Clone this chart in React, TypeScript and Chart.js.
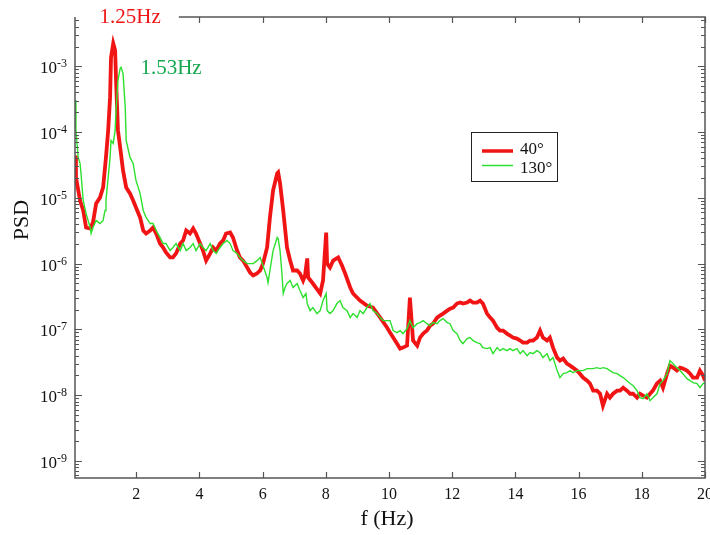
import React, { useEffect, useRef } from "react";
import { Chart, registerables } from "chart.js";

Chart.register(...registerables);

// ---- data ----
const freq40 = [
  0.06, 0.09, 0.22, 0.32, 0.41, 0.54, 0.63, 0.73, 0.85, 0.95,
  1.04, 1.11, 1.17, 1.2, 1.27, 1.33, 1.36, 1.42, 1.49, 1.58,
  1.68, 1.8, 1.9, 1.99, 2.12, 2.22, 2.31, 2.44, 2.53, 2.63,
  2.75, 2.85, 2.94, 3.07, 3.16, 3.26, 3.39, 3.48, 3.58, 3.7,
  3.8, 3.89, 4.02, 4.11, 4.21, 4.34, 4.43, 4.53, 4.65, 4.75,
  4.84, 4.97, 5.06, 5.19, 5.28, 5.38, 5.51, 5.6, 5.7, 5.82,
  5.92, 6.01, 6.14, 6.23, 6.33, 6.46, 6.49, 6.55, 6.65, 6.77,
  6.87, 6.96, 7.09, 7.18, 7.28, 7.34, 7.41, 7.44, 7.59, 7.82,
  7.91, 8.01, 8.04, 8.13, 8.23, 8.39, 8.51, 8.61, 8.77, 8.86,
  9.08, 9.3, 9.49, 9.72, 9.94, 10.03, 10.13, 10.25, 10.35, 10.44,
  10.57, 10.66, 10.73, 10.76, 10.89, 10.98, 11.08, 11.2, 11.3, 11.39,
  11.52, 11.61, 11.71, 11.84, 11.93, 12.03, 12.15, 12.25, 12.34, 12.47,
  12.56, 12.66, 12.78, 12.88, 12.97, 13.1, 13.2, 13.29, 13.42, 13.51,
  13.61, 13.73, 13.83, 13.92, 14.05, 14.15, 14.24, 14.37, 14.46, 14.56,
  14.68, 14.78, 14.87, 15.0, 15.09, 15.19, 15.32, 15.41, 15.51, 15.63,
  15.73, 15.82, 15.95, 16.04, 16.14, 16.27, 16.36, 16.46, 16.58, 16.68,
  16.77, 16.9, 16.99, 17.09, 17.22, 17.31, 17.41, 17.53, 17.63, 17.72,
  17.85, 17.94, 18.04, 18.16, 18.26, 18.35, 18.48, 18.58, 18.67, 18.8,
  18.89, 18.99, 19.11, 19.21, 19.3, 19.43, 19.53, 19.62, 19.75, 19.84,
  19.94, 20.0,
];
const psd40 = [
  4.4e-5, 2.05e-5, 9.12e-6, 6.43e-6, 3.54e-6, 3.42e-6, 4.23e-6, 8.22e-6, 1.01e-5, 1.44e-5,
  4.12e-5, 1.06e-4, 3.37e-4, 1.37e-3, 2.24e-3, 1.75e-3, 6.12e-4, 1.06e-4, 5.85e-5, 2.61e-5,
  1.44e-5, 1.17e-5, 9.12e-6, 7.14e-6, 5.04e-6, 3.19e-6, 2.87e-6, 3.19e-6, 3.54e-6, 2.87e-6,
  2.02e-6, 1.76e-6, 1.48e-6, 1.24e-6, 1.24e-6, 1.43e-6, 2.02e-6, 2.25e-6, 3.19e-6, 2.87e-6,
  3.42e-6, 2.87e-6, 2.02e-6, 1.58e-6, 1.11e-6, 1.43e-6, 1.76e-6, 1.58e-6, 2.02e-6, 2.25e-6,
  2.87e-6, 2.97e-6, 2.5e-6, 1.58e-6, 1.24e-6, 1.11e-6, 8.73e-7, 7.33e-7, 6.59e-7, 7.07e-7,
  7.86e-7, 1.0e-6, 1.76e-6, 5.04e-6, 1.3e-5, 2.35e-5, 2.44e-5, 1.66e-5, 6.43e-6, 1.76e-6,
  1.11e-6, 7.86e-7, 7.86e-7, 7.07e-7, 5.53e-7, 6.59e-7, 1.2e-6, 6.14e-7, 4.98e-7, 3.51e-7,
  5.53e-7, 2.97e-6, 1.0e-6, 8.73e-7, 1.11e-6, 1.24e-6, 9.36e-7, 7.07e-7, 4.33e-7, 3.51e-7,
  2.74e-7, 2.3e-7, 2.15e-7, 1.51e-7, 1.06e-7, 8.93e-8, 7.5e-8, 6.08e-8, 5.1e-8, 5.28e-8,
  5.67e-8, 3.05e-7, 1.06e-7, 6.76e-8, 5.67e-8, 7.5e-8, 8.63e-8, 9.59e-8, 1.14e-7, 1.22e-7,
  1.51e-7, 1.62e-7, 1.74e-7, 1.93e-7, 2.07e-7, 2.15e-7, 2.47e-7, 2.56e-7, 2.47e-7, 2.56e-7,
  2.74e-7, 2.56e-7, 2.56e-7, 2.74e-7, 2.47e-7, 1.74e-7, 1.51e-7, 1.36e-7, 1.06e-7, 9.59e-8,
  9.59e-8, 8.63e-8, 8.05e-8, 7.5e-8, 7.24e-8, 6.76e-8, 6.3e-8, 6.3e-8, 6.76e-8, 6.76e-8,
  7.5e-8, 9.59e-8, 7.5e-8, 6.76e-8, 7.5e-8, 5.28e-8, 3.72e-8, 3.35e-8, 3.59e-8, 3.01e-8,
  2.81e-8, 2.62e-8, 2.36e-8, 2.12e-8, 1.85e-8, 1.66e-8, 1.5e-8, 1.17e-8, 1.17e-8, 1.05e-8,
  6.92e-9, 1.05e-8, 9.16e-9, 1.05e-8, 1.17e-8, 1.17e-8, 1.3e-8, 1.17e-8, 1.05e-8, 1.05e-8,
  9.16e-9, 1.05e-8, 9.82e-9, 9.16e-9, 1.05e-8, 1.17e-8, 1.5e-8, 1.66e-8, 1.3e-8, 2.12e-8,
  2.81e-8, 2.62e-8, 2.36e-8, 2.62e-8, 2.53e-8, 2.36e-8, 2.12e-8, 1.85e-8, 1.85e-8, 2.36e-8,
  1.98e-8, 1.66e-8,
];

const freq130 = [
  0.06, 0.09, 0.16, 0.22, 0.25, 0.32, 0.41, 0.54, 0.57, 0.63,
  0.73, 0.85, 0.95, 1.01, 1.04, 1.11, 1.17, 1.2, 1.27, 1.33,
  1.36, 1.42, 1.49, 1.52, 1.58, 1.65, 1.68, 1.8, 1.9, 1.99,
  2.12, 2.22, 2.31, 2.44, 2.53, 2.63, 2.75, 2.85, 2.94, 3.07,
  3.16, 3.26, 3.39, 3.48, 3.58, 3.7, 3.8, 3.89, 4.02, 4.11,
  4.21, 4.34, 4.43, 4.53, 4.65, 4.75, 4.87, 4.97, 5.06, 5.19,
  5.28, 5.38, 5.51, 5.6, 5.7, 5.82, 5.92, 6.01, 6.14, 6.17,
  6.23, 6.33, 6.46, 6.49, 6.55, 6.61, 6.65, 6.71, 6.77, 6.87,
  6.96, 7.09, 7.18, 7.28, 7.37, 7.41, 7.5, 7.59, 7.72, 7.82,
  7.91, 8.01, 8.04, 8.13, 8.23, 8.35, 8.45, 8.54, 8.67, 8.77,
  8.86, 8.99, 9.08, 9.18, 9.3, 9.4, 9.49, 9.62, 9.72, 9.81,
  9.94, 10.03, 10.13, 10.25, 10.35, 10.44, 10.57, 10.66, 10.76, 10.89,
  10.98, 11.08, 11.2, 11.3, 11.39, 11.52, 11.61, 11.71, 11.84, 11.93,
  12.03, 12.15, 12.25, 12.34, 12.47, 12.56, 12.66, 12.78, 12.88, 12.97,
  13.1, 13.2, 13.29, 13.42, 13.51, 13.61, 13.73, 13.83, 13.92, 14.05,
  14.15, 14.24, 14.37, 14.46, 14.56, 14.68, 14.78, 14.87, 15.0, 15.09,
  15.19, 15.32, 15.41, 15.51, 15.63, 15.73, 15.82, 15.95, 16.04, 16.14,
  16.27, 16.36, 16.46, 16.58, 16.68, 16.77, 16.9, 16.99, 17.09, 17.22,
  17.31, 17.41, 17.53, 17.63, 17.72, 17.85, 17.94, 18.04, 18.16, 18.26,
  18.35, 18.48, 18.58, 18.67, 18.8, 18.89, 18.99, 19.11, 19.21, 19.3,
  19.43, 19.53, 19.62, 19.75, 19.84, 19.94, 20.0,
];
const psd130 = [
  3.04e-4, 1.06e-4, 4.12e-5, 3.34e-5, 2.35e-5, 9.12e-6, 5.79e-6, 3.54e-6, 2.87e-6, 3.54e-6,
  4.53e-6, 4.07e-6, 4.53e-6, 6.43e-6, 9.12e-6, 2.05e-5, 4.12e-5, 7.48e-5, 6.73e-5, 1.06e-4,
  2.14e-4, 6.12e-4, 9.33e-4, 9.66e-4, 7.82e-4, 2.38e-4, 7.48e-5, 4.12e-5, 3.34e-5, 1.84e-5,
  1.17e-5, 6.43e-6, 5.04e-6, 4.07e-6, 4.07e-6, 3.19e-6, 2.5e-6, 2.02e-6, 2.02e-6, 1.58e-6,
  1.76e-6, 2.02e-6, 1.58e-6, 2.02e-6, 1.58e-6, 1.76e-6, 2.02e-6, 1.58e-6, 2.02e-6, 1.76e-6,
  1.58e-6, 2.02e-6, 1.58e-6, 1.43e-6, 1.76e-6, 2.02e-6, 2.25e-6, 2.02e-6, 1.58e-6, 1.43e-6,
  1.24e-6, 1.11e-6, 1.0e-6, 1.0e-6, 1.0e-6, 1.11e-6, 1.24e-6, 9.36e-7, 6.14e-7, 5.15e-7,
  7.86e-7, 1.58e-6, 2.5e-6, 2.41e-6, 1.58e-6, 7.07e-7, 3.51e-7, 4.33e-7, 4.98e-7, 5.53e-7,
  4.33e-7, 4.98e-7, 3.9e-7, 3.05e-7, 3.51e-7, 2.47e-7, 1.93e-7, 2.15e-7, 1.74e-7, 1.93e-7,
  2.74e-7, 3.51e-7, 1.93e-7, 1.74e-7, 1.93e-7, 2.47e-7, 2.74e-7, 2.15e-7, 1.93e-7, 1.51e-7,
  1.74e-7, 1.51e-7, 1.93e-7, 1.74e-7, 2.15e-7, 2.47e-7, 1.93e-7, 1.74e-7, 1.51e-7, 1.36e-7,
  1.36e-7, 1.36e-7, 9.59e-8, 8.93e-8, 9.59e-8, 8.63e-8, 1.03e-7, 1.36e-7, 1.06e-7, 1.22e-7,
  1.27e-7, 1.36e-7, 1.22e-7, 1.14e-7, 1.27e-7, 1.22e-7, 1.36e-7, 1.46e-7, 1.27e-7, 1.22e-7,
  9.59e-8, 8.63e-8, 6.76e-8, 6.08e-8, 7.24e-8, 7.5e-8, 6.76e-8, 6.3e-8, 6.08e-8, 5.28e-8,
  5.1e-8, 5.28e-8, 4.28e-8, 5.28e-8, 4.75e-8, 5.1e-8, 4.75e-8, 5.1e-8, 4.75e-8, 5.1e-8,
  4.28e-8, 4.75e-8, 3.99e-8, 4.43e-8, 4.28e-8, 4.75e-8, 4.43e-8, 3.72e-8, 4.28e-8, 3.35e-8,
  3.72e-8, 2.36e-8, 1.85e-8, 2.12e-8, 2.2e-8, 2.36e-8, 2.2e-8, 2.36e-8, 2.36e-8, 2.36e-8,
  2.53e-8, 2.53e-8, 2.53e-8, 2.62e-8, 2.53e-8, 2.62e-8, 2.53e-8, 2.36e-8, 2.2e-8, 2.12e-8,
  1.98e-8, 1.85e-8, 1.66e-8, 1.5e-8, 1.4e-8, 1.17e-8, 9.16e-9, 8.85e-9, 1.05e-8, 8.25e-9,
  9.16e-9, 1.05e-8, 1.5e-8, 1.66e-8, 2.12e-8, 3.35e-8, 3.01e-8, 2.62e-8, 2.36e-8, 2.12e-8,
  1.78e-8, 1.66e-8, 1.55e-8, 1.5e-8, 1.3e-8, 1.5e-8, 1.55e-8,
];

const seriesNames = ["40°", "130°"];
const xTickValues = [2, 4, 6, 8, 10, 12, 14, 16, 18, 20];
const xTickLabels = ["2", "4", "6", "8", "10", "12", "14", "16", "18", "20"];
const yDecadeExponents = [-9, -8, -7, -6, -5, -4, -3];
const yDecadeLabels = ["-9", "-8", "-7", "-6", "-5", "-4", "-3"];
const peakFreqs = [1.25, 1.53];
const peakLabels = ["1.25Hz", "1.53Hz"];
const xTitle = "f (Hz)";
const yTitle = "PSD";

const X_MIN = 0.06;
const X_MAX = 20;
const Y_MIN = Math.pow(10, -9.26);
const Y_MAX = Math.pow(10, -2.25);

const RED = "#f01414";
const GREEN = "#2ee02e";
const LABEL_GREEN = "#14a84e";
const AXIS = "#555555";
const SERIF = "'Liberation Serif', 'Times New Roman', serif";

const framePlugin = {
  id: "frame",
  afterDraw(chart: any) {
    const ctx = chart.ctx;
    const xs = chart.scales.x;
    const ys = chart.scales.y;
    const a = chart.chartArea;
    ctx.save();

    // annotation labels above peaks
    ctx.font = `21px ${SERIF}`;
    ctx.textBaseline = "alphabetic";
    ctx.textAlign = "left";
    ctx.fillStyle = RED;
    const p0 = xs.getPixelForValue(peakFreqs[0]);
    ctx.fillText(peakLabels[0], p0 - 13, 23);
    const topLineStart = p0 - 13 + ctx.measureText(peakLabels[0]).width + 18;
    ctx.fillStyle = LABEL_GREEN;
    const p1 = xs.getPixelForValue(peakFreqs[1]);
    ctx.fillText(peakLabels[1], p1 + 19, 74);

    // frame
    ctx.strokeStyle = AXIS;
    ctx.lineWidth = 1.5;
    ctx.beginPath();
    ctx.moveTo(a.left, a.top);
    ctx.lineTo(a.left, a.bottom);
    ctx.lineTo(a.right, a.bottom);
    ctx.lineTo(a.right, a.top);
    ctx.lineTo(topLineStart, a.top);
    ctx.stroke();

    // x ticks
    ctx.lineWidth = 1.2;
    ctx.beginPath();
    xTickValues.forEach((v) => {
      const px = Math.round(xs.getPixelForValue(v)) + 0.5;
      ctx.moveTo(px, a.bottom);
      ctx.lineTo(px, a.bottom - 6);
      if (px > topLineStart) {
        ctx.moveTo(px, a.top);
        ctx.lineTo(px, a.top + 6);
      }
    });
    // y ticks (major + minor)
    for (let e = -10; e <= -2; e++) {
      for (let k = 1; k <= 9; k++) {
        const v = k * Math.pow(10, e);
        if (v < Y_MIN || v > Y_MAX) continue;
        const py = Math.round(ys.getPixelForValue(v)) + 0.5;
        const len = k === 1 ? 7 : 4;
        ctx.moveTo(a.left, py);
        ctx.lineTo(a.left + len, py);
        ctx.moveTo(a.right, py);
        ctx.lineTo(a.right - len, py);
      }
    }
    ctx.stroke();

    // x tick labels
    ctx.fillStyle = "#111";
    ctx.font = `16px ${SERIF}`;
    ctx.textAlign = "center";
    xTickValues.forEach((v, i) => {
      ctx.fillText(xTickLabels[i], xs.getPixelForValue(v), 499);
    });

    // y tick labels: 10 with superscript exponent
    yDecadeExponents.forEach((e, i) => {
      const py = ys.getPixelForValue(Math.pow(10, e));
      ctx.font = `12px ${SERIF}`;
      const sw = ctx.measureText(yDecadeLabels[i]).width;
      const right = 67;
      ctx.textAlign = "left";
      ctx.fillText(yDecadeLabels[i], right - sw, py + 1);
      ctx.font = `17px ${SERIF}`;
      ctx.textAlign = "right";
      ctx.fillText("10", right - sw, py + 7);
    });

    // axis titles
    ctx.font = `22px ${SERIF}`;
    ctx.textAlign = "center";
    ctx.fillText(xTitle, 387, 525);
    ctx.save();
    ctx.translate(28, 220);
    ctx.rotate(-Math.PI / 2);
    ctx.fillText(yTitle, 0, 0);
    ctx.restore();

    // legend box
    ctx.strokeStyle = "#222";
    ctx.lineWidth = 1;
    ctx.strokeRect(471.5, 132.5, 86, 49);
    ctx.lineWidth = 3.5;
    ctx.strokeStyle = RED;
    ctx.beginPath();
    ctx.moveTo(482, 151);
    ctx.lineTo(513, 151);
    ctx.stroke();
    ctx.lineWidth = 1.5;
    ctx.strokeStyle = GREEN;
    ctx.beginPath();
    ctx.moveTo(482, 165.5);
    ctx.lineTo(513, 165.5);
    ctx.stroke();
    ctx.fillStyle = "#111";
    ctx.font = `17px ${SERIF}`;
    ctx.textAlign = "left";
    ctx.fillText(seriesNames[0], 520, 154);
    ctx.fillText(seriesNames[1], 520, 173);

    ctx.restore();
  },
};

export default function App() {
  const ref = useRef<HTMLCanvasElement | null>(null);
  useEffect(() => {
    if (!ref.current) return;
    const chart = new Chart(ref.current, {
      type: "line",
      data: {
        datasets: [
          {
            label: seriesNames[0],
            data: freq40.map((f, i) => ({ x: f, y: psd40[i] })),
            borderColor: RED,
            borderWidth: 3.8,
            pointRadius: 0,
            tension: 0,
            order: 1,
          },
          {
            label: seriesNames[1],
            data: freq130.map((f, i) => ({ x: f, y: psd130[i] })),
            borderColor: GREEN,
            borderWidth: 1.4,
            pointRadius: 0,
            tension: 0,
            order: 0,
          },
        ],
      },
      options: {
        animation: false,
        responsive: true,
        maintainAspectRatio: false,
        devicePixelRatio: 1,
        layout: { padding: { left: 75, right: 5, top: 17, bottom: 57 } },
        scales: {
          x: { type: "linear", min: X_MIN, max: X_MAX, display: false },
          y: { type: "logarithmic", min: Y_MIN, max: Y_MAX, display: false },
        },
        plugins: {
          legend: { display: false },
          tooltip: { enabled: false },
        },
        events: [],
      },
      plugins: [framePlugin],
    });
    return () => chart.destroy();
  }, []);

  return (
    <div
      style={{
        position: "fixed",
        left: 0,
        top: 0,
        width: 710,
        height: 535,
        background: "#fff",
      }}
    >
      <canvas ref={ref} />
    </div>
  );
}
